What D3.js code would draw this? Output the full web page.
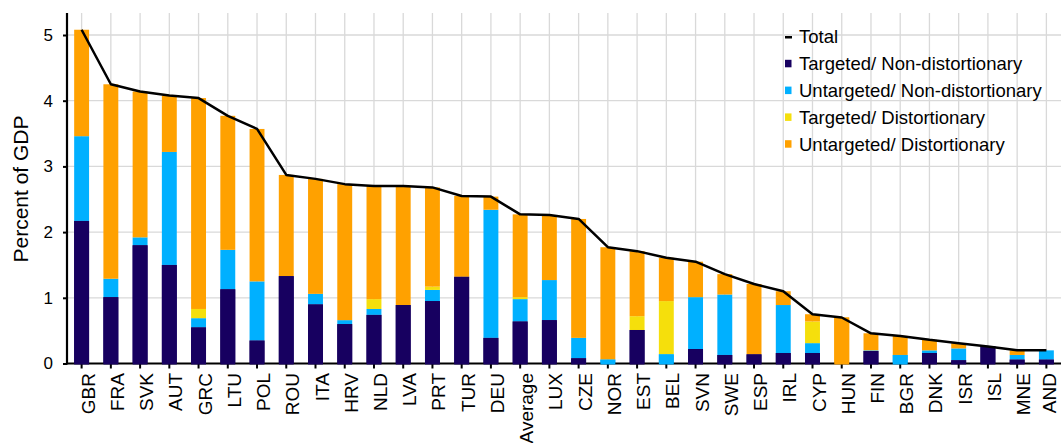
<!DOCTYPE html>
<html>
<head>
<meta charset="utf-8">
<script src="https://cdn.jsdelivr.net/npm/d3@7"></script>
<style>
  html, body { margin: 0; padding: 0; background: #fff; }
  svg { display: block; font-family: "Liberation Sans", Arial, sans-serif; }
</style>
</head>
<body>
<svg id="chart" width="1061" height="443"></svg>
<script>
// Economies, ordered by total support
const categories = ["GBR","FRA","SVK","AUT","GRC","LTU","POL","ROU","ITA","HRV","NLD","LVA","PRT","TUR","DEU","Average","LUX","CZE","NOR","EST","BEL","SVN","SWE","ESP","IRL","CYP","HUN","FIN","BGR","DNK","ISR","ISL","MNE","AND"];

// Components, percent of GDP
const targetedNonDist   = [2.17,1.01,1.80,1.50,0.55,1.13,0.35,1.33,0.90,0.60,0.74,0.89,0.95,1.32,0.39,0.64,0.66,0.08,0.00,0.51,0.00,0.22,0.13,0.14,0.16,0.16,0.00,0.19,0.00,0.16,0.05,0.26,0.06,0.06];
const untargetedNonDist = [1.29,0.28,0.12,1.72,0.14,0.60,0.90,0.00,0.16,0.06,0.09,0.00,0.17,0.00,1.95,0.34,0.61,0.31,0.06,0.00,0.14,0.79,0.92,0.00,0.73,0.15,0.00,0.01,0.13,0.04,0.18,0.00,0.07,0.14];
const targetedDist      = [0.00,0.00,0.00,0.00,0.14,0.00,0.00,0.00,0.00,0.00,0.15,0.00,0.05,0.00,0.00,0.03,0.00,0.00,0.00,0.21,0.81,0.00,0.00,0.00,0.00,0.33,0.00,0.00,0.00,0.00,0.00,0.00,0.00,0.00];
const untargetedDist    = [1.62,2.96,2.22,0.86,3.21,2.04,2.32,1.54,1.75,2.07,1.72,1.81,1.51,1.23,0.20,1.26,0.99,1.81,1.71,0.99,0.66,0.54,0.31,1.07,0.21,0.11,0.70,0.26,0.29,0.16,0.08,0.00,0.07,0.00];
const totals            = [5.08,4.25,4.14,4.08,4.04,3.77,3.57,2.87,2.81,2.73,2.70,2.70,2.68,2.55,2.54,2.27,2.26,2.20,1.77,1.71,1.61,1.55,1.36,1.21,1.10,0.75,0.70,0.46,0.42,0.36,0.31,0.26,0.20,0.20];

const seriesNames = ["Targeted/ Non-distortionary","Untargeted/ Non-distortionary","Targeted/ Distortionary","Untargeted/ Distortionary"];
const seriesColors = ["#170060","#00b0ff","#f5df0c","#ffa100"];
const yTicks = [0,1,2,3,4,5];

const svg = d3.select("#chart");
const margin = {left: 67, right: 0, top: 13, bottom: 80};
const W = 1061, H = 443;
const plotBottom = 363.5;

const rows = categories.map((c, i) => ({
  cat: c,
  s0: targetedNonDist[i], s1: untargetedNonDist[i], s2: targetedDist[i], s3: untargetedDist[i],
  total: totals[i]
}));

const x = d3.scaleBand().domain(categories).range([margin.left, W - margin.right]).paddingInner(0.49).paddingOuter(0.245);
const y = d3.scaleLinear().domain([0, 5]).range([plotBottom, 35]);

// grid
const grid = svg.append("g");
grid.selectAll("line.h").data(yTicks.filter(d => d > 0)).join("line")
  .attr("x1", margin.left).attr("x2", W)
  .attr("y1", d => y(d)).attr("y2", d => y(d))
  .attr("stroke", "#d9d9d9").attr("stroke-width", 1.3);
grid.selectAll("line.v").data(categories).join("line")
  .attr("x1", d => x(d) + x.bandwidth() / 2).attr("x2", d => x(d) + x.bandwidth() / 2)
  .attr("y1", margin.top).attr("y2", plotBottom)
  .attr("stroke", "#d9d9d9").attr("stroke-width", 1.3);

// stacked bars
const stack = d3.stack().keys(["s0","s1","s2","s3"]);
const layers = stack(rows);
svg.append("g").selectAll("g").data(layers).join("g")
  .attr("fill", (d, i) => seriesColors[i])
  .selectAll("rect").data(d => d).join("rect")
  .attr("x", d => x(d.data.cat))
  .attr("width", x.bandwidth())
  .attr("y", d => y(d[1]))
  .attr("height", d => Math.max(0, y(d[0]) - y(d[1])));

// axes
const yAxis = svg.append("g").attr("transform", `translate(${margin.left},0)`)
  .call(d3.axisLeft(y).tickValues(yTicks).tickSize(4).tickPadding(10).tickFormat(d3.format("d")));
yAxis.select(".domain").remove();
yAxis.selectAll(".tick line").attr("stroke", "#000").attr("stroke-width", 2);
yAxis.selectAll("text").attr("font-size", 17).attr("fill", "#000");
svg.append("line").attr("x1", margin.left).attr("x2", margin.left)
  .attr("y1", margin.top).attr("y2", plotBottom + 1)
  .attr("stroke", "#000").attr("stroke-width", 2.2);

const lastCat = categories[categories.length - 1];
const xAxis = svg.append("g").attr("transform", `translate(0,${plotBottom})`)
  .call(d3.axisBottom(x).tickSize(5).tickPadding(4));
xAxis.select(".domain").remove();
xAxis.selectAll(".tick line").attr("stroke", "#000").attr("stroke-width", 2);
xAxis.selectAll("text")
  .attr("font-size", 19).attr("fill", "#000")
  .attr("transform", "rotate(-90)")
  .attr("text-anchor", "end")
  .attr("dx", 0).attr("dy", 0)
  .attr("x", -9.5)
  .attr("y", d => d === lastCat ? 9.5 : 13);   // keep the rightmost label inside the canvas
svg.append("line").attr("x1", margin.left - 1).attr("x2", W)
  .attr("y1", plotBottom).attr("y2", plotBottom)
  .attr("stroke", "#000").attr("stroke-width", 2.2);

// bottom segments drawn over the baseline
svg.append("g").selectAll("g").data(layers).join("g")
  .attr("fill", (d, i) => seriesColors[i])
  .selectAll("rect").data(d => d.filter(e => e[1] - e[0] > 0 && e[0] === 0)).join("rect")
  .attr("x", d => x(d.data.cat))
  .attr("width", x.bandwidth())
  .attr("y", d => y(d[1]))
  .attr("height", d => y(d[0]) - y(d[1]) + 1);

// total line
const line = d3.line().x(d => x(d.cat) + x.bandwidth() / 2).y(d => y(d.total));
svg.append("path").datum(rows).attr("d", line)
  .attr("fill", "none").attr("stroke", "#000").attr("stroke-width", 2.5).attr("stroke-linejoin", "round");

// y title
svg.append("text")
  .attr("transform", "translate(28,189) rotate(-90)")
  .attr("text-anchor", "middle").attr("font-size", 21).attr("fill", "#000")
  .text("Percent of GDP");

// legend
const lg = svg.append("g").attr("transform", "translate(785,37)");
const legendItems = [{name: "Total", type: "line"}].concat(seriesNames.map((n, i) => ({name: n, color: seriesColors[i]})));
const li = lg.selectAll("g").data(legendItems).join("g").attr("transform", (d, i) => `translate(0,${i * 26.8})`);
li.each(function(d) {
  const g = d3.select(this);
  if (d.type === "line") {
    g.append("rect").attr("x", 0).attr("y", -1).attr("width", 7).attr("height", 2.5).attr("fill", "#000");
  } else {
    g.append("rect").attr("x", 0).attr("y", -4).attr("width", 6.5).attr("height", 7.5).attr("fill", d.color);
  }
  g.append("text").attr("x", 14).attr("y", 0).attr("dy", "0.35em")
    .attr("font-size", 18.5).attr("fill", "#000").text(d.name);
});
</script>
</body>
</html>
